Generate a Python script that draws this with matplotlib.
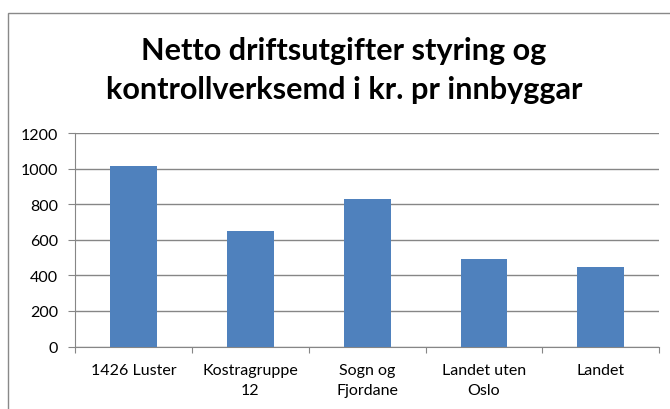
import numpy as np
import matplotlib.pyplot as plt
from matplotlib.patches import Rectangle

categories = ["1426 Luster", "Kostragruppe\n12", "Sogn og\nFjordane", "Landet uten\nOslo", "Landet"]
values = [1014, 648, 831, 493, 445]
yticks = [0, 200, 400, 600, 800, 1000, 1200]
title_lines = ["Netto driftsutgifter styring og", "kontrollverksemd i kr. pr innbyggar"]

plt.rcParams['font.family'] = ['Lato', 'DejaVu Sans']

fig = plt.figure(figsize=(6.7, 4.1), dpi=100)
ax = fig.add_axes([0.1124, 0.1524, 0.8712, 0.5205])

# ramme rundt diagrammet
fig.patches.append(Rectangle((7.5 / 670, -0.1), 1.2, 1 - 13.5 / 410 + 0.1,
                             transform=fig.transFigure, fill=False,
                             edgecolor='#898989', linewidth=1.0))

x = np.arange(len(categories))
ax.bar(x, values, width=0.4, color='#4f81bd', zorder=3)

ax.set_xlim(-0.5, len(categories) - 0.5)
ax.set_ylim(0, 1200)
ax.set_yticks(yticks)
ax.set_yticklabels([str(v) for v in yticks], fontsize=11.5)
ax.yaxis.grid(True, color='#868686', linewidth=1.0, zorder=0)

ax.set_xticks(np.arange(-0.5, len(categories), 1.0))
ax.set_xticklabels([])
ax.set_xticks(x, minor=True)
ax.set_xticklabels(categories, minor=True, fontsize=11.5, linespacing=1.55)
ax.tick_params(axis='x', which='major', length=4.5, color='#868686', direction='out')
ax.tick_params(axis='x', which='minor', length=0, pad=12)
ax.tick_params(axis='y', length=5, color='#868686', pad=7.5)

for side in ['top', 'right']:
    ax.spines[side].set_visible(False)
ax.spines['left'].set_color('#868686')
ax.spines['bottom'].set_color('#868686')

fig.text(0.5134, 1 - 60 / 410, title_lines[0], ha='center', va='baseline',
         fontsize=22.1, fontweight='bold')
fig.text(0.5134, 1 - 99 / 410, title_lines[1], ha='center', va='baseline',
         fontsize=22.1, fontweight='bold')

fig.savefig("out.png", dpi=100)
